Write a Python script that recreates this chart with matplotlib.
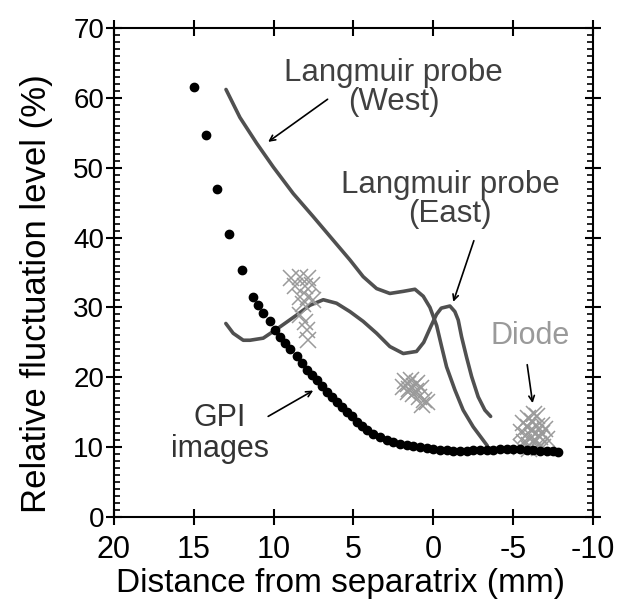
import matplotlib
matplotlib.use('Agg')
import matplotlib.pyplot as plt
from matplotlib.ticker import MultipleLocator

plt.rcParams['font.family'] = ['Liberation Sans', 'DejaVu Sans']
plt.rcParams['axes.unicode_minus'] = False

# GPI images (black dots)
gpi_x = [14.99, 14.26, 13.53, 12.78, 12.0, 11.27, 10.96, 10.65, 10.23, 9.92, 9.60,
         9.29, 8.98, 8.56, 8.25, 7.93, 7.62, 7.31, 7.0, 6.68, 6.37, 6.05, 5.74,
         5.43, 5.11, 4.80, 4.49, 4.18, 3.76, 3.34, 2.92, 2.51, 2.09, 1.67, 1.25,
         0.84, 0.42, 0.0, -0.42, -0.84, -1.25, -1.67, -2.09, -2.51, -2.92, -3.34,
         -3.76, -4.18, -4.59, -5.01, -5.43, -5.85, -6.26, -6.68, -7.10, -7.50, -7.83]
gpi_y = [61.6, 54.7, 47.0, 40.5, 35.3, 31.5, 30.3, 29.2, 28.0, 26.8, 25.8,
         24.9, 24.0, 23.0, 22.1, 21.1, 20.3, 19.6, 18.75, 17.9, 17.2, 16.5, 15.8,
         15.1, 14.4, 13.6, 13.0, 12.45, 11.9, 11.4, 11.0, 10.7, 10.5, 10.3, 10.15,
         9.97, 9.83, 9.73, 9.64, 9.54, 9.49, 9.45, 9.49, 9.54, 9.59, 9.59,
         9.64, 9.69, 9.73, 9.73, 9.69, 9.59, 9.54, 9.49, 9.45, 9.4, 9.35]

# Langmuir probe (West)
west_x = [12.98, 12.11, 11.06, 10.02, 8.77, 7.52, 6.26, 5.22, 4.39, 3.55, 2.72,
          1.88, 1.15, 0.63, 0.21, -0.21, -0.52, -0.83, -1.35, -1.87, -2.50, -3.12, -3.38]
west_y = [61.2, 57.2, 53.5, 50.1, 46.3, 43.0, 39.6, 36.8, 34.4, 32.7, 32.0,
          32.3, 32.6, 31.6, 30.0, 27.4, 24.4, 21.5, 18.2, 15.3, 12.9, 11.0, 10.2]

# Langmuir probe (East)
east_x = [12.99, 12.53, 11.90, 11.48, 10.65, 9.61, 8.56, 7.73, 6.89, 6.06, 5.22,
          4.39, 3.55, 2.72, 1.88, 1.05, 0.6, 0.15, -0.2, -0.5, -1.04, -1.35, -1.56,
          -1.77, -2.08, -2.40, -2.81, -3.23, -3.59]
east_y = [27.7, 26.3, 25.3, 25.3, 25.6, 27.2, 28.9, 30.3, 31.1, 30.6, 29.4,
          28.0, 26.3, 24.4, 23.4, 23.7, 25.0, 27.3, 29.0, 29.9, 30.2, 29.4, 28.2,
          25.8, 22.9, 20.1, 17.2, 15.3, 14.4]

# Diode (gray crosses), three clusters
diode_x = [8.88, 8.35, 7.83, 8.66, 8.04, 7.62, 8.35, 7.83, 7.52, 8.14, 8.35, 8.04, 7.93, 7.83,
           1.8, 1.6, 1.4, 1.2, 1.0, 1.5, 1.9, 1.1, 0.8, 1.3, 0.9, 0.6, 0.4, 0.7, 1.6,
           -5.6, -5.9, -6.2, -6.5, -6.8, -7.0, -5.5, -5.8, -6.1, -6.4, -6.7, -7.1, -5.7,
           -6.0, -6.3, -6.6, -6.9, -5.5, -6.2, -6.5, -5.9, -6.8, -6.0, -6.6, -6.3]
diode_y = [34.2, 34.4, 34.2, 33.0, 33.0, 33.2, 31.5, 31.5, 31.0, 30.5, 28.9, 27.9, 26.7, 25.3,
           19.5, 19.0, 19.6, 18.8, 19.2, 18.3, 18.6, 18.0, 18.5, 17.6, 17.2, 16.8, 16.4, 16.0, 17.9,
           13.5, 14.2, 13.8, 14.5, 13.2, 12.6, 12.2, 11.8, 12.5, 12.0, 11.5, 11.2, 10.8,
           10.3, 10.9, 10.5, 10.0, 10.0, 11.4, 13.0, 12.9, 12.0, 9.8, 9.9, 14.8]

line_color = '#505050'
cross_color = '#9a9a9a'

fig = plt.figure(figsize=(6.19, 6.01), dpi=100)
ax = fig.add_axes([0.184, 0.1398, 0.774, 0.8136])

ax.plot(west_x, west_y, color=line_color, lw=2.6, solid_capstyle='round', solid_joinstyle='round')
ax.plot(east_x, east_y, color=line_color, lw=2.6, solid_capstyle='round', solid_joinstyle='round')
ax.plot(diode_x, diode_y, ls='none', marker='x', ms=12, mew=1.1, color=cross_color)
ax.plot(gpi_x, gpi_y, ls='none', marker='o', ms=6, color='black')

ax.set_xlim(20, -10)
ax.set_ylim(0, 70)
ax.set_xticks([20, 15, 10, 5, 0, -5, -10])
ax.set_yticks(range(0, 71, 10))
ax.yaxis.set_minor_locator(MultipleLocator(1))

for s in ax.spines.values():
    s.set_linewidth(1.5)
ax.tick_params(which='major', direction='inout', length=12, width=1.5,
               top=True, right=True)
ax.tick_params(which='minor', direction='in', length=4, width=1.2,
               left=True, right=True)
ax.tick_params(axis='x', labelsize=22, pad=7)
ax.tick_params(axis='y', labelsize=20, pad=1)

ax.set_xlabel('Distance from separatrix (mm)', fontsize=24)
ax.xaxis.set_label_coords(0.472, -0.105)
ax.set_ylabel('Relative fluctuation level (%)', fontsize=25)
ax.yaxis.set_label_coords(-0.128, 0.456)

txt_color = '#404040'
arrow = dict(arrowstyle='->', color='black', lw=1.2, shrinkA=0, shrinkB=0)
ax.text(2.47, 61.5, 'Langmuir probe\n(West)', fontsize=22.5, color=txt_color,
        ha='center', va='center', linespacing=0.95)
ax.annotate('', xy=(10.34, 53.7), xytext=(6.62, 59.8), arrowprops=arrow)
ax.text(-1.07, 45.5, 'Langmuir probe\n(East)', fontsize=22.5, color=txt_color,
        ha='center', va='center', linespacing=0.95)
ax.annotate('', xy=(-1.25, 30.8), xytext=(-2.54, 39.55), arrowprops=arrow)
ax.text(13.36, 12.0, 'GPI\nimages', fontsize=22, color='#333333',
        ha='center', va='center', linespacing=1.05)
ax.annotate('', xy=(7.52, 18.1), xytext=(10.34, 14.4), arrowprops=arrow)
ax.text(-6.05, 25.9, 'Diode', fontsize=22, color=cross_color, ha='center', va='center')
ax.annotate('', xy=(-6.22, 16.3), xytext=(-5.88, 21.8), arrowprops=arrow)

fig.savefig('out.png', dpi=100)
